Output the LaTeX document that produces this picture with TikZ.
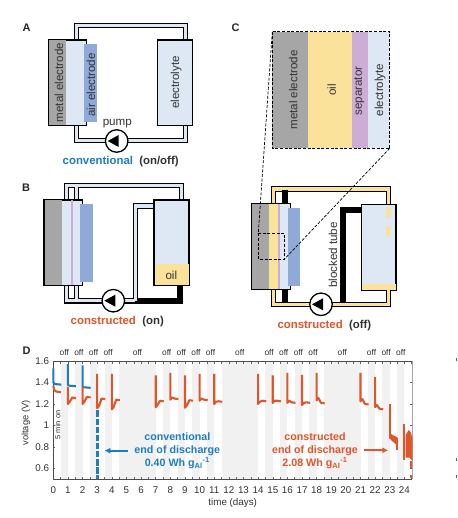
\documentclass[tikz,border=0pt]{standalone}
\usepackage{fontspec}
\usetikzlibrary{arrows.meta}
\setmainfont{Liberation Sans}
\definecolor{elec}{HTML}{DDE8F4}
\definecolor{airc}{HTML}{8FA9D8}
\definecolor{metal}{HTML}{A6A6A6}
\definecolor{oilc}{HTML}{FBE29A}
\definecolor{sepc}{HTML}{CDADD6}
\definecolor{blueL}{HTML}{1F7CC4}
\definecolor{orangeL}{HTML}{E0562A}
\definecolor{bandc}{HTML}{F1F1F1}
\definecolor{txtc}{HTML}{333333}
\tikzset{
 cellbox/.style={draw=black,line width=1.1pt},
 tubeout/.style={draw=black,line width=5.4pt,line join=miter},
 tubein/.style={draw=elec,line width=3.2pt,line join=miter},
 tubeoil/.style={draw=oilc,line width=3.2pt,line join=miter},
 blocked/.style={draw=black,line width=5.6pt},
 lab/.style={font=\fontsize{11.6}{13}\selectfont,text=txtc,inner sep=0pt},
 vlab/.style={lab,rotate=90},
 panel/.style={font=\fontsize{11}{13}\selectfont\bfseries,text=black!85,inner sep=0pt},
 caption/.style={font=\fontsize{11.4}{13}\selectfont\bfseries,text=txtc,inner sep=0pt},
 pumpc/.style={circle,draw=black,fill=white,line width=1.3pt,minimum size=22.5pt,inner sep=0pt},
 dashbox/.style={draw=black,line width=.7pt,dash pattern=on 3pt off 1.6pt},
 tick/.style={font=\fontsize{9.8}{12}\selectfont,text=txtc,inner sep=0pt},
 offlab/.style={font=\fontsize{8.4}{10}\selectfont,text=txtc,inner sep=0pt},
 orangetr/.style={draw=orangeL,line width=2.1pt,line join=round},
 bluetr/.style={draw=blueL,line width=2.1pt,line join=round},
 annot/.style={font=\fontsize{10.7}{12}\selectfont\bfseries,inner sep=0pt},
}
\newcommand{\pumptip}[2]{\fill[black] (#1-9,#2) -- (#1+2,#2-6) -- (#1+2,#2+6) -- cycle;}
\begin{document}
\begin{tikzpicture}[x=1pt,y=-1pt]
\useasboundingbox (0,0) rectangle (457,518);
\fill[white] (0,0) rectangle (457,518);
% ---- Panel A
\node[panel] (pA) at (26.7,27.3) {A};
\draw[tubeout] (76.2,42) -- (76.2,25.3) -- (185.2,25.3) -- (185.2,42);
\draw[tubeout] (76.2,120) -- (76.2,140.6) -- (185.2,140.6) -- (185.2,120);
\draw[tubein] (76.2,42) -- (76.2,25.3) -- (185.2,25.3) -- (185.2,42);
\draw[tubein] (76.2,120) -- (76.2,140.6) -- (185.2,140.6) -- (185.2,120);
\draw[cellbox,fill=elec] (48.3,40) rectangle (86.7,125.7);
\fill[metal] (48.8,40.5) rectangle (66,125.2);
\fill[airc] (84,44.3) rectangle (97.3,121.7);
\draw[cellbox,fill=elec] (157.7,40) rectangle (192.7,125.7);
\node[pumpc] (pumpA) at (116.7,141) {};
\pumptip{116.7}{141}
\node[vlab] (a1) at (59,82.5) {metal electrode};
\node[vlab] (a2) at (91,85) {air electrode};
\node[vlab] (a3) at (176,82.5) {electrolyte};
\node[lab] (a4) at (117.3,123.5) {pump};
\node[caption,anchor=west] (a5) at (62.5,161.7) {\textcolor{blueL}{conventional}\ \ (on/off)};
% ---- Panel B
\node[panel] (pB) at (26,187.3) {B};
\draw[tubeout] (66.2,202) -- (66.2,185.8) -- (181.7,185.8) -- (181.7,202);
\draw[tubeout] (76.7,202) -- (76.7,185.8);
\draw[tubeout] (66.2,284) -- (66.2,300.8) -- (140,300.8);
\draw[tubeout] (76.7,284) -- (76.7,300.8);
\draw[tubeout] (135.4,300.8) -- (135.4,206) -- (156,206);
\draw[tubein] (66.2,202) -- (66.2,185.8) -- (181.7,185.8) -- (181.7,202);
\draw[tubein] (76.7,202) -- (76.7,185.8);
\draw[tubein] (66.2,284) -- (66.2,300.8) -- (135.4,300.8);
\draw[tubein] (76.7,284) -- (76.7,300.8);
\draw[tubein] (135.4,300.8) -- (135.4,206) -- (156,206);
\draw[blocked,line cap=butt] (180,285) -- (180,301) -- (137.6,301);
\draw[cellbox,fill=elec] (44,200) rectangle (82.7,285.7);
\fill[metal] (44.5,200.5) rectangle (62.3,285.2);
\fill[sepc] (70.7,200.5) rectangle (73.3,285.2);
\fill[airc] (80,204.3) rectangle (93.3,281.7);
\draw[cellbox,fill=elec] (154,200) rectangle (189,285.7);
\fill[oilc] (154.5,264.3) rectangle (188.5,285.2);
\node[pumpc] (pumpB) at (113.3,300.7) {};
\pumptip{113.3}{300.7}
\node[lab] (b1) at (171.3,275) {oil};
\node[caption,anchor=west] (b2) at (70.5,321.7) {\textcolor{orangeL}{constructed}\ \ (on)};
% ---- Panel C
\node[panel] (pC) at (235.7,27.7) {C};
\draw[tubeout] (273.3,205) -- (273.3,189) -- (388.3,189) -- (388.3,206);
\draw[tubeout] (273.3,288) -- (273.3,304.7) -- (388.3,304.7) -- (388.3,288);
\draw[tubeoil] (273.3,205) -- (273.3,189) -- (388.3,189) -- (388.3,206);
\draw[tubeoil] (273.3,288) -- (273.3,304.7) -- (388.3,304.7) -- (388.3,288);
\draw[blocked] (284.7,190) -- (284.7,205);
\draw[blocked] (284.7,288) -- (284.7,303);
\draw[blocked] (343,303) -- (343,210.3) -- (362,210.3);
\draw[cellbox,fill=elec] (251.7,203.3) rectangle (290.3,289.3);
\fill[metal] (252.2,203.8) rectangle (269.3,288.8);
\fill[oilc] (269.3,203.8) rectangle (278.3,288.8);
\fill[sepc] (278.3,203.8) rectangle (280,288.8);
\fill[airc] (287.7,208.3) rectangle (300,286);
\draw[cellbox,fill=elec] (361.7,204.3) rectangle (396,290);
\fill[oilc] (362.2,284) rectangle (395.5,289.5);
\fill[oilc] (388.3,212.3) ellipse [x radius=2.5,y radius=6];
\fill[oilc] (388.3,231) ellipse [x radius=2.5,y radius=6];
\fill[oilc] (386.9,204.8) rectangle (389.7,206.5);
\fill[oilc] (386.9,289.5) rectangle (389.7,291);
\node[pumpc] (pumpC) at (321,304.3) {};
\pumptip{321}{304.3}
\node[vlab] (c0) at (333,255) {blocked tube};
\node[caption,anchor=west] (c1) at (277.3,326) {\textcolor{orangeL}{constructed}\ \ (off)};
% inset
\coordinate (smallTL) at (258.3,233.3);
\coordinate (smallBR) at (284.3,259.3);
\fill[metal] (272.3,31.7) rectangle (308.3,148.3);
\fill[oilc] (308.3,31.7) rectangle (352,148.3);
\fill[sepc] (352,31.7) rectangle (368,148.3);
\fill[elec] (368,31.7) rectangle (389.7,148.3);
\coordinate (bigTL) at (272.3,31.7);
\coordinate (bigBR) at (389.7,148.3);
\draw[dashbox] (bigTL) rectangle (bigBR);
\draw[dashbox] (smallTL) rectangle (smallBR);
\draw[dashbox] (bigTL) -- (smallTL);
\draw[dashbox] (bigBR) -- (smallBR);
\node[vlab] (c2) at (293.3,90) {metal electrode};
\node[vlab] (c3) at (331.7,90) {oil};
\node[vlab] (c4) at (359.3,91) {separator};
\node[vlab] (c5) at (380,90) {electrolyte};
% ---- Panel D
\node[panel] (pD) at (26.7,351) {D};
\begin{scope}[shift={(53.3,479.2)},x=14.63pt,y=107.5pt]
 \foreach \a/\b in {0.5/1,1.5/2,2.5/3,3.5/4,4.5/7,7.5/8,8.5/9,9.5/10,10.5/11,11.5/14,14.5/15,15.5/16,16.5/17,17.5/18,18.5/21,21.5/22,22.5/23,23.5/24}
   \fill[bandc] (\a,0) rectangle (\b,1.1);
 \foreach \d in {0,0.5,...,24.5} {
   \draw[black!60,line width=.5pt] (\d,0) -- (\d,.025);
   \draw[black!60,line width=.5pt] (\d,1.1) -- (\d,1.075);
 }
 \foreach \v in {0.1,0.3,0.5,0.7,0.9,1.1}
   \draw[black!60,line width=.5pt] (0,\v) -- (.15,\v);
 \foreach \v in {0.1,0.3,0.5,0.7,0.9}
   \draw[black!60,line width=.5pt] (24.55,\v) -- (24.4,\v);
 \draw[black!70,line width=.7pt] (0,1.1) -- (0,0) -- (24.55,0);
 \draw[black!70,line width=.7pt] (0,1.1) -- (24.55,1.1);
 \draw[black!35,line width=1.2pt] (24.55,1.1) -- (24.55,0);
 % tick labels
 \foreach \d in {0,1,...,24}
   \node[tick] (xt\d) at (\d,-.1) {\d};
 % off labels
 \foreach \d [count=\i] in {0.75,1.75,2.75,3.75,5.75,7.75,8.75,9.75,10.75,12.75,14.75,15.75,16.75,17.75,19.75,21.75,22.75,23.75}
   \node[offlab] (off\i) at (\d,1.182) {off};
 % blue traces
 \draw[bluetr] (0,1.03) -- (0,.9) -- (.08,.885) -- (.55,.88);
 \draw[bluetr] (1,1.07) -- (1,.875) -- (1.1,.87) -- (1.55,.865);
 \draw[bluetr] (2,1.06) -- (2,.86) -- (2.1,.855) -- (2.55,.85);
 % orange traces
 \draw[orangetr] (0,.87) -- (.06,.83) -- (.2,.815) -- (.52,.81);
 \foreach \d/\p/\l/\e in {1/.86/.7/.76,2/.86/.7/.765,3/.98/.66/.75,4/.98/.65/.74,7/.965/.67/.73,8/.99/.74/.75,9/.965/.665/.735,10/.98/.73/.74,11/.98/.7/.725,14/.98/.7/.73,15/.965/.71/.73,16/.99/.71/.715,17/.97/.69/.715,18/.99/.735/.71,21/.99/.725/.7,22/.95/.67/.655}
   \draw[orangetr] (\d,\p) -- (\d,\l) -- (\d+.12,\l+.02) -- (\d+.3,\e) -- (\d+.55,\e-.005);
 % end of life
 \draw[orangetr] (23,.7) -- (23,.42);
 \fill[orangeL] (22.95,.44) -- (23.15,.415) -- (23.5,.39) -- (23.58,.35) -- (23.4,.325) -- (23.05,.37) -- (22.95,.38) -- cycle;
 \draw[orangetr] (23.52,.38) -- (23.52,.27);
 \draw[orangetr] (24,.51) -- (24,.18);
 \fill[orangeL] (24.08,.41) -- (24.3,.46) -- (24.45,.43) -- (24.55,.38) -- (24.55,.17) -- (24.35,.2) -- (24.08,.2) -- cycle;
 \draw[orangeL,line width=2pt] (24.47,.17) -- (24.47,.1);
 \fill[orangeL] (24.4,.015) rectangle (24.55,.035);
 % end of discharge marker
 \draw[draw=blueL,line width=2.7pt,dash pattern=on 6.5pt off 1.6pt] (3,.64) -- (3,0);
\end{scope}
\foreach \t/\y in {1.6/361,1.4/382.5,1.2/404,1/425.5,0.8/447,0.6/468.5}
  \node[tick,anchor=east] (yt\t) at (49.3,\y) {\t};
\node[tick,font=\fontsize{9.3}{12}\selectfont,rotate=90] (ylab) at (26,423) {voltage (V)};
\node[tick] (xlab) at (232.7,502.7) {time (days)};
\node[tick,font=\fontsize{7.5}{9}\selectfont,rotate=90] (fm) at (57.7,425) {5 min on};
\node[annot,text=blueL,align=center] (blueT) at (177.3,451) {conventional\\[1.2pt]end of discharge\\[1.2pt]0.40 Wh g\textsubscript{Al}\textsuperscript{-1}};
\node[annot,text=orangeL,align=center] (orT) at (315,450.7) {constructed\\[1.2pt]end of discharge\\[1.2pt]2.08 Wh g\textsubscript{Al}\textsuperscript{-1}};
\coordinate (blA) at (127.7,450.7);
\coordinate (blB) at (104.3,450.7);
\coordinate (orA) at (364,450.3);
\coordinate (orB) at (388.3,450.3);
\draw[blueL,line width=1.8pt,-{Latex[length=6pt,width=6pt]}] (blA) -- (blB);
\draw[orangeL,line width=1.8pt,-{Latex[length=6pt,width=6pt]}] (orA) -- (orB);
% stray marks at the right edge of the reference
\foreach \y in {359,459,476}
  \fill[blue!70] (455.6,\y-1.5) rectangle (457,\y+1.5);
\end{tikzpicture}
\end{document}
